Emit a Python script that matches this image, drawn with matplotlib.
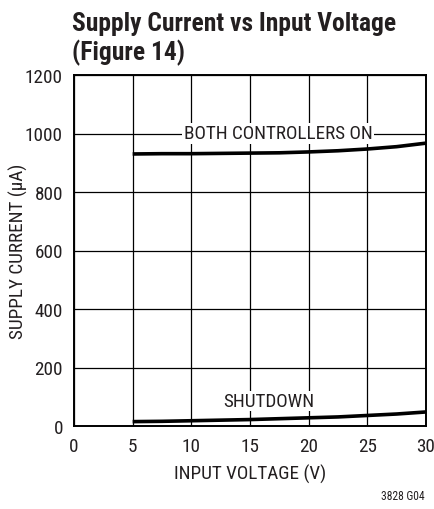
import matplotlib.pyplot as plt
from matplotlib import font_manager
import numpy as np

# pick a narrow sans if one is present, else fall back to Liberation Sans
installed = {f.name for f in font_manager.fontManager.ttflist}
font = 'Liberation Sans'
scale = 1.0
for name in ['Liberation Sans Narrow', 'Roboto Condensed', 'Arial Narrow']:
    if name in installed:
        font = name
        scale = 1.2
        break
plt.rcParams['font.family'] = [font, 'DejaVu Sans']

# curve data
vin = [5, 7.5, 10, 12.5, 15, 17.5, 20, 22.5, 25, 27.5, 30]
i_both_on = [930, 931, 931, 932, 933, 934, 937, 941, 947, 955, 967]
i_shutdown = [15, 16, 18, 20, 22, 25, 28, 31, 36, 41, 48]

x_ticks = [0, 5, 10, 15, 20, 25, 30]
y_ticks = [0, 200, 400, 600, 800, 1000, 1200]

fs = 11.5 * scale
ink = '#231f20'

fig = plt.figure(figsize=(4.35, 5.10), dpi=100)
ax = fig.add_axes([74 / 435, 1 - 427 / 510, 352 / 435, 351 / 510])

ax.plot(vin, i_both_on, color='black', linewidth=2.6, solid_capstyle='butt', zorder=3)
ax.plot(vin, i_shutdown, color='black', linewidth=2.6, solid_capstyle='butt', zorder=3)

ax.set_xlim(0, 30)
ax.set_ylim(0, 1200)
ax.set_xticks(x_ticks)
ax.set_yticks(y_ticks)
ax.grid(True, color='black', linewidth=0.9)
ax.tick_params(length=0, labelsize=fs, colors=ink)
ax.tick_params(axis='x', pad=8)
ax.tick_params(axis='y', pad=8)
for s in ax.spines.values():
    s.set_linewidth(1.4)

ax.set_xlabel('INPUT VOLTAGE (V)', fontsize=fs, color=ink, labelpad=6)
ax.set_ylabel('SUPPLY CURRENT (\u03bcA)', fontsize=fs, color=ink)
ax.yaxis.set_label_coords(-0.131, 0.5)

ax.text(17.4, 1000, 'BOTH CONTROLLERS ON', fontsize=fs, color=ink,
        ha='center', va='center', zorder=4,
        bbox=dict(facecolor='white', edgecolor='none', pad=1))
ax.text(16.6, 85, 'SHUTDOWN', fontsize=fs, color=ink,
        ha='center', va='center', zorder=4,
        bbox=dict(facecolor='white', edgecolor='none', pad=1))

fig.text(72 / 435, 1 - 12 / 510, 'Supply Current vs Input Voltage\n(Figure 14)',
         fontsize=15.3 * scale, fontweight='bold', color=ink, ha='left', va='top',
         linespacing=1.2)
fig.text(425 / 435, 1 - 497 / 510, '3828 G04', fontsize=7 * scale, color=ink,
         ha='right', va='center')

fig.savefig('out.png', dpi=100)
